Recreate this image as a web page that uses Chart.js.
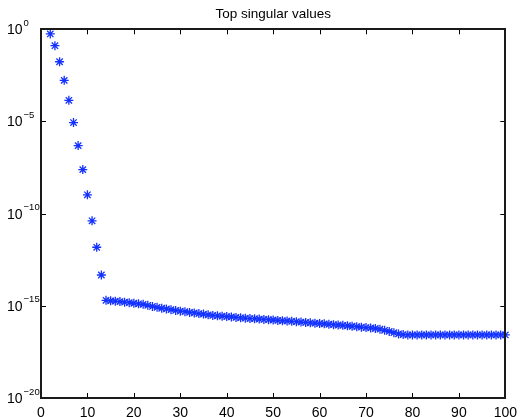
<!DOCTYPE html>
<html>
<head>
<meta charset="utf-8">
<script src="https://cdn.jsdelivr.net/npm/chart.js@4/dist/chart.umd.min.js"></script>
<style>
  html, body { margin: 0; padding: 0; background: #fff; }
  #wrap { width: 524px; height: 417px; position: relative; }
</style>
</head>
<body>
<div id="wrap"><canvas id="svChart"></canvas></div>
<script>
    const ranks = [ 2, 3, 4, 5, 6, 7, 8, 9, 10, 11, 12, 13, 14, 15, 16, 17, 18, 19, 20, 21, 22, 23, 24, 25, 26, 27, 28, 29, 30, 31, 32, 33, 34, 35, 36, 37, 38, 39, 40, 41, 42, 43, 44, 45, 46, 47, 48, 49, 50, 51, 52, 53, 54, 55, 56, 57, 58, 59, 60, 61, 62, 63, 64, 65, 66, 67, 68, 69, 70, 71, 72, 73, 74, 75, 76, 77, 78, 79, 80, 81, 82, 83, 84, 85, 86, 87, 88, 89, 90, 91, 92, 93, 94, 95, 96, 97, 98, 99, 100 ];
    const singularValues = [
        5.6e-1, 1.29e-1, 1.74e-2, 1.7e-3, 1.41e-4, 8.7e-6, 4.9e-7, 2.45e-8, 1.05e-9, 4.1e-11, 1.5e-12, 4.7e-14,
        2.0e-15, 1.86e-15, 1.78e-15, 1.70e-15, 1.58e-15, 1.48e-15, 1.38e-15, 1.29e-15, 1.20e-15, 1.07e-15, 9.3e-16, 8.3e-16,
        7.4e-16, 6.8e-16, 6.2e-16, 5.6e-16, 5.1e-16, 4.8e-16, 4.4e-16, 4.1e-16, 3.8e-16, 3.55e-16, 3.24e-16, 3.0e-16,
        2.88e-16, 2.75e-16, 2.63e-16, 2.51e-16, 2.34e-16, 2.24e-16, 2.14e-16, 2.04e-16, 2.0e-16, 1.9e-16, 1.82e-16, 1.78e-16,
        1.70e-16, 1.62e-16, 1.55e-16, 1.51e-16, 1.45e-16, 1.38e-16, 1.32e-16, 1.26e-16, 1.20e-16, 1.15e-16, 1.10e-16, 1.05e-16,
        1.0e-16, 9.5e-17, 9.1e-17, 8.7e-17, 8.3e-17, 7.8e-17, 7.4e-17, 6.9e-17, 6.6e-17, 6.3e-17, 5.9e-17, 5.4e-17,
        4.7e-17, 4.1e-17, 3.5e-17, 3.0e-17, 2.75e-17,
        2.63e-17, 2.63e-17, 2.63e-17, 2.63e-17, 2.63e-17, 2.63e-17, 2.63e-17, 2.63e-17, 2.63e-17, 2.63e-17, 2.63e-17,
        2.63e-17, 2.63e-17, 2.63e-17, 2.63e-17, 2.63e-17, 2.63e-17, 2.63e-17, 2.63e-17, 2.63e-17, 2.63e-17, 2.63e-17
    ];
    const xTicks = [ 0, 10, 20, 30, 40, 50, 60, 70, 80, 90, 100 ];
    const yTicks = [ 1e-20, 1e-15, 1e-10, 1e-5, 1e0 ];
    const yExponents = [ "\u221220", "\u221215", "\u221210", "\u22125", "0" ];

    const FONT = "'Liberation Sans', Arial, Helvetica, sans-serif";

    // matlab style box: frame, inward ticks, 10^n labels
    const matlabAxes = {
        id: "matlabAxes",
        afterDraw(chart) {
            const ctx = chart.ctx;
            const a = chart.chartArea;
            const xs = chart.scales.x;
            const ys = chart.scales.y;
            const len = 5;
            ctx.save();
            ctx.strokeStyle = "#000";
            ctx.lineWidth = 1;
            ctx.beginPath();
            xTicks.forEach(v => {
                const px = Math.round(xs.getPixelForValue(v)) + 0.5;
                ctx.moveTo(px, a.bottom); ctx.lineTo(px, a.bottom - len);
                ctx.moveTo(px, a.top); ctx.lineTo(px, a.top + len);
            });
            yTicks.forEach(v => {
                const py = Math.round(ys.getPixelForValue(v)) + 0.5;
                ctx.moveTo(a.left, py); ctx.lineTo(a.left + len, py);
                ctx.moveTo(a.right, py); ctx.lineTo(a.right - len, py);
            });
            ctx.stroke();
            ctx.strokeStyle = "#1a1a1a";
            ctx.lineWidth = 2;
            ctx.strokeRect(Math.round(a.left), Math.round(a.top), Math.round(a.right - a.left), Math.round(a.bottom - a.top));

            ctx.fillStyle = "#000";
            ctx.textAlign = "left";
            ctx.textBaseline = "middle";
            yTicks.forEach((v, i) => {
                const py = ys.getPixelForValue(v);
                ctx.font = "14px " + FONT;
                ctx.fillText("10", 7, py + 1);
                const w = ctx.measureText("10").width;
                ctx.font = "9.5px " + FONT;
                ctx.fillText(yExponents[i], 7 + w + 1, py - 6);
            });
            ctx.restore();
        }
    };

    const points = ranks.map((r, i) => ({ x: r, y: singularValues[i] }));

    const config = {
        type: "scatter",
        data: {
            datasets: [ {
                label: "singular values",
                data: points,
                pointStyle: "star",
                pointRadius: 4.5,
                pointBorderWidth: 1.3,
                borderColor: "rgb(20, 50, 255)",
                backgroundColor: "rgb(20, 50, 255)",
                showLine: false,
                clip: false
            } ]
        },
        plugins: [ matlabAxes ],
        options: {
            responsive: true,
            maintainAspectRatio: false,
            animation: false,
            layout: {
                padding: { left: 0, right: 14, top: 0, bottom: 0 }
            },
            plugins: {
                legend: { display: false },
                tooltip: { enabled: false },
                title: {
                    display: true,
                    text: "Top singular values",
                    color: "#000",
                    fullSize: false,
                    font: { family: FONT, size: 13.5, weight: "normal" },
                    padding: { top: 6, bottom: 7.1 }
                }
            },
            scales: {
                x: {
                    type: "linear",
                    min: 0,
                    max: 100,
                    grid: { display: false, drawTicks: false },
                    border: { display: false },
                    afterBuildTicks: scale => { scale.ticks = xTicks.map(v => ({ value: v })); },
                    afterFit: scale => { scale.height = 19; },
                    ticks: {
                        color: "#000",
                        padding: 7,
                        maxRotation: 0,
                        font: { family: FONT, size: 14 }
                    }
                },
                y: {
                    type: "logarithmic",
                    min: 1e-20,
                    max: 1,
                    grid: { display: false, drawTicks: false },
                    border: { display: false },
                    afterBuildTicks: scale => { scale.ticks = yTicks.map(v => ({ value: v })); },
                    afterFit: scale => { scale.width = 41; },
                    ticks: { display: false }
                }
            }
        }
    };

    new Chart(document.getElementById("svChart"), config);
</script>
</body>
</html>
